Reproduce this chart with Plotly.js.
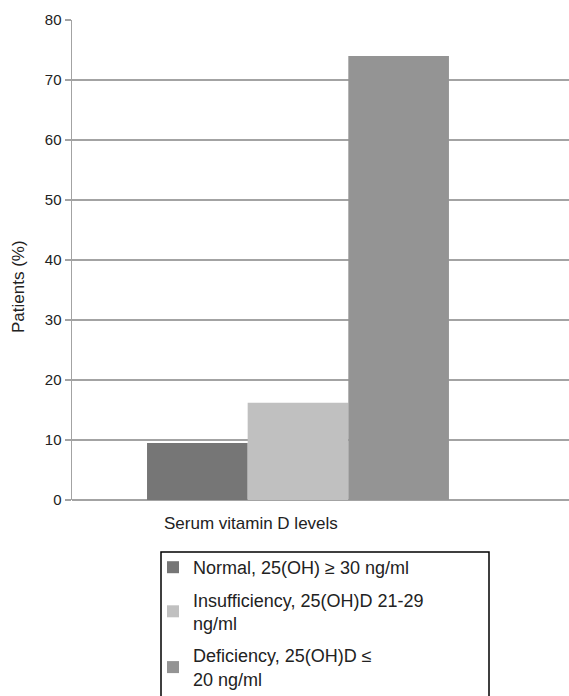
<!DOCTYPE html>
<html><head><meta charset="utf-8">
<script src="https://cdn.plot.ly/plotly-3.0.1.min.js"></script>
<style>html,body{margin:0;padding:0;overflow:hidden;background:#fff}</style>
</head><body>
<div id="chart" style="width:569px;height:720px"></div>
<script>
const category = ["Serum vitamin D levels"];
const seriesNames = ["Normal, 25(OH) ≥ 30 ng/ml", "Insufficiency, 25(OH)D 21-29<br>ng/ml", "Deficiency, 25(OH)D ≤<br>20 ng/ml"];
const normalValues = [9.5];
const insufficiencyValues = [16.2];
const deficiencyValues = [74];
const seriesColors = ["#767676", "#c0c0c0", "#949494"];
const yTicks = [0, 10, 20, 30, 40, 50, 60, 70, 80];

const font = "Liberation Sans, Arial, sans-serif";
const seriesValues = [normalValues, insufficiencyValues, deficiencyValues];
const traces = seriesValues.map((v, i) => ({
  type: "bar", x: category, y: v, name: seriesNames[i],
  marker: {color: seriesColors[i]}, legendgroup: "g" + i
}));

const layout = {
  width: 569, height: 720,
  margin: {l: 72, r: 0, t: 20, b: 220, pad: 0},
  paper_bgcolor: "#fff", plot_bgcolor: "#fff",
  barmode: "group", bargap: 0.332, bargroupgap: 0,
  font: {family: font, color: "#222"},
  showlegend: true,
  legend: {
    x: (153 - 72) / 497, xanchor: "left",
    y: (500 - 549) / 480, yanchor: "top",
    bgcolor: "rgba(0,0,0,0)", borderwidth: 0,
    font: {family: font, size: 18, color: "#222"},
    tracegroupgap: 6, traceorder: "grouped"
  },
  xaxis: {
    type: "category", range: [-0.5, 0.5996], showticklabels: false,
    showgrid: false, zeroline: false, showline: false, ticks: ""
  },
  yaxis: {
    range: [0, 80], tickvals: yTicks, ticktext: yTicks.map(String),
    showgrid: true, gridcolor: "#a3a3a3", gridwidth: 1.3,
    zeroline: true, zerolinecolor: "#a3a3a3", zerolinewidth: 1.5,
    showline: true, linecolor: "#a3a3a3", linewidth: 1.5,
    ticks: "outside", ticklen: 6, tickcolor: "#a3a3a3", tickwidth: 1.3,
    tickfont: {family: font, size: 15, color: "#222"}
  },
  shapes: [{
    type: "rect", xref: "paper", yref: "paper",
    x0: (161 - 72) / 497, x1: (489 - 72) / 497,
    y0: (500 - 552) / 480, y1: (500 - 740) / 480,
    line: {color: "#000", width: 1.5}, fillcolor: "rgba(0,0,0,0)"
  }],
  annotations: [{
    text: "Serum vitamin D levels", xref: "paper", yref: "paper",
    x: (251 - 72) / 497, y: (500 - 523) / 480, xanchor: "center", yanchor: "middle",
    showarrow: false, font: {family: font, size: 17, color: "#222"}
  }, {
    text: "Patients (%)", xref: "paper", yref: "paper",
    x: (18 - 72) / 497, y: (500 - 287) / 480, xanchor: "center", yanchor: "middle",
    textangle: -90, showarrow: false, font: {family: font, size: 17, color: "#222"}
  }]
};
Plotly.newPlot("chart", traces, layout, {displayModeBar: false, staticPlot: true});
</script>
</body></html>
